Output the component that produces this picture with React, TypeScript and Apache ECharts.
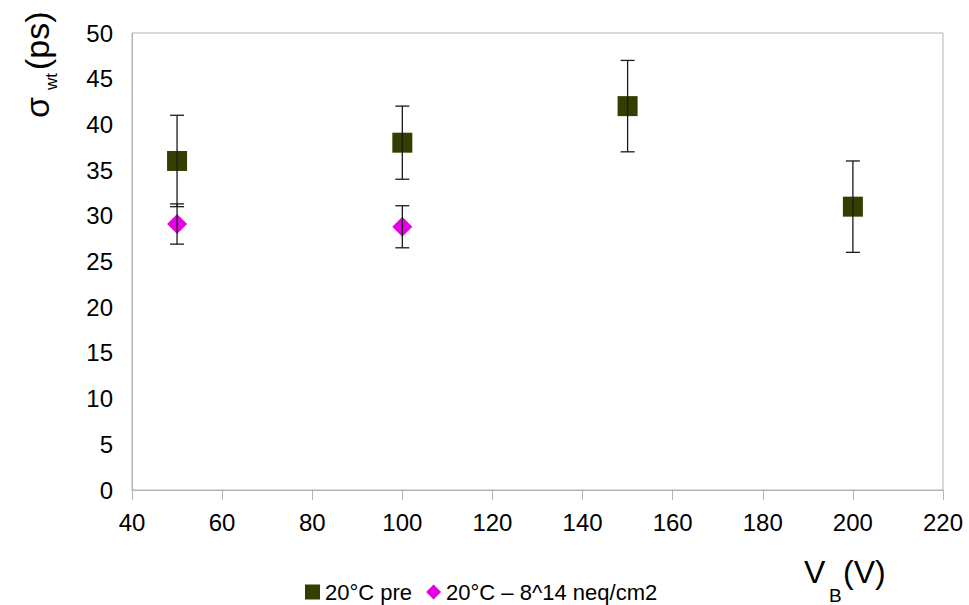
import React, { useEffect, useRef } from "react";
import * as echarts from "echarts";

const xPre = [50, 100, 150, 200];
const yPre = [36, 38, 42, 31];
const errPre = [5, 4, 5, 5];

const xIrr = [50, 100];
const yIrr = [29.1, 28.8];
const errIrr = [2.2, 2.3];

const xTicks = { min: 40, max: 220, interval: 20 };
const yTicks = { min: 0, max: 50, interval: 5 };

const seriesNames = ["20°C pre", "20°C – 8^14 neq/cm2"];

function errData(xs: number[], ys: number[], es: number[]) {
  return xs.map((x, i) => [x, ys[i] - es[i], ys[i] + es[i]]);
}

function errRender(params: any, api: any) {
  const x = api.value(0);
  const lo = api.coord([x, api.value(1)]);
  const hi = api.coord([x, api.value(2)]);
  const cap = 7;
  const style = { stroke: "#1a1a1a", lineWidth: 1.3 };
  return {
    type: "group",
    children: [
      { type: "line", shape: { x1: lo[0], y1: lo[1], x2: hi[0], y2: hi[1] }, style },
      { type: "line", shape: { x1: lo[0] - cap, y1: lo[1], x2: lo[0] + cap, y2: lo[1] }, style },
      { type: "line", shape: { x1: hi[0] - cap, y1: hi[1], x2: hi[0] + cap, y2: hi[1] }, style },
    ],
  };
}

export default function App() {
  const ref = useRef<HTMLDivElement>(null);
  useEffect(() => {
    const chart = echarts.init(ref.current!, null, { renderer: "svg" });
    const font = "Liberation Sans, Arial, sans-serif";
    const txt = (x: number, y: number, text: string, size: number) => ({
      type: "text",
      x,
      y,
      style: { text, fontSize: size, fontFamily: font, fill: "#000", align: "left", verticalAlign: "middle" },
    });
    chart.setOption({
      animation: false,
      textStyle: { fontFamily: font },
      grid: { left: 132, right: 26, top: 33, bottom: 115, show: true, borderColor: "#b3b3b3", borderWidth: 1 },
      xAxis: {
        type: "value",
        min: xTicks.min,
        max: xTicks.max,
        interval: xTicks.interval,
        axisLine: { show: true, lineStyle: { color: "#b3b3b3" } },
        axisTick: { show: true, length: 10, lineStyle: { color: "#b3b3b3" } },
        splitLine: { show: false },
        axisLabel: { color: "#000", fontSize: 24, margin: 20, fontFamily: font },
      },
      yAxis: {
        type: "value",
        min: yTicks.min,
        max: yTicks.max,
        interval: yTicks.interval,
        axisLine: { show: true, lineStyle: { color: "#b3b3b3" } },
        axisTick: { show: false },
        splitLine: { show: false },
        axisLabel: { color: "#000", fontSize: 24, margin: 19, fontFamily: font },
      },
      legend: {
        left: 300,
        top: 576,
        itemWidth: 15,
        itemHeight: 15,
        itemGap: 14,
        textStyle: { fontSize: 22, color: "#000", fontFamily: font },
        data: [
          { name: seriesNames[0], icon: "rect" },
          { name: seriesNames[1], icon: "diamond" },
        ],
      },
      graphic: [
        {
          type: "group",
          x: 0,
          y: 118,
          rotation: Math.PI / 2,
          children: [txt(0, 37, "σ", 34), txt(28, 51, "wt", 17), txt(48, 37, "(ps)", 34)],
        },
        {
          type: "group",
          x: 0,
          y: 0,
          children: [txt(804, 572, "V", 32), txt(829, 595, "B", 19), txt(843, 572, "(V)", 32)],
        },
      ],
      series: [
        {
          name: seriesNames[0],
          type: "scatter",
          symbol: "rect",
          symbolSize: 20,
          itemStyle: { color: "#333f00", opacity: 1 },
          data: xPre.map((x, i) => [x, yPre[i]]),
          z: 2,
        },
        {
          name: seriesNames[1],
          type: "scatter",
          symbol: "diamond",
          symbolSize: 20,
          itemStyle: { color: "#e600e6", opacity: 1 },
          data: xIrr.map((x, i) => [x, yIrr[i]]),
          z: 2,
        },
        {
          type: "custom",
          renderItem: errRender,
          data: errData(xPre, yPre, errPre),
          z: 3,
          silent: true,
        },
        {
          type: "custom",
          renderItem: errRender,
          data: errData(xIrr, yIrr, errIrr),
          z: 3,
          silent: true,
        },
      ],
    });
    return () => chart.dispose();
  }, []);
  return <div ref={ref} style={{ width: 969, height: 605, position: "absolute", left: 0, top: 0 }} />;
}
